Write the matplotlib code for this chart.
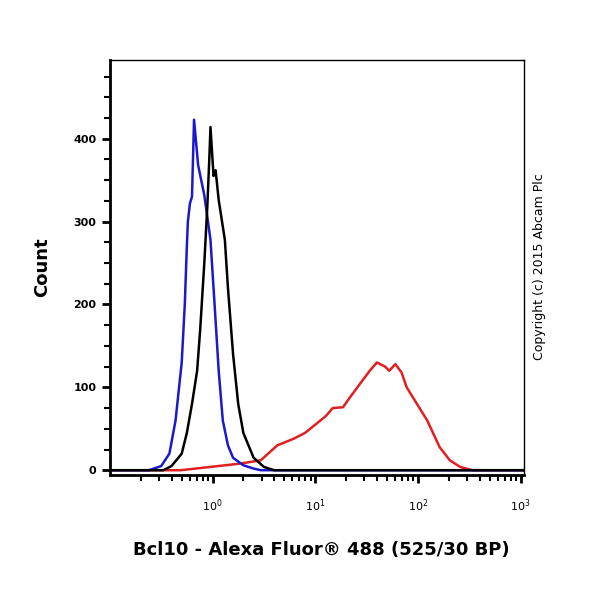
import numpy as np
import matplotlib
matplotlib.use("Agg")
import matplotlib.pyplot as plt
from matplotlib.ticker import LogLocator, MultipleLocator, NullFormatter, FixedLocator

blue_logx = [-1.0, -0.62, -0.5, -0.42, -0.36, -0.3, -0.27, -0.25, -0.24, -0.22, -0.2, -0.18, -0.14, -0.1, -0.08, -0.02, 0.02, 0.06, 0.1, 0.15, 0.2, 0.3, 0.4, 0.47, 3.03]
blue_cnt  = [0, 0, 5, 20, 60, 130, 200, 270, 300, 322, 330, 423, 368, 344, 332, 278, 200, 120, 60, 30, 15, 6, 2, 0, 0]

black_logx = [-1.0, -0.48, -0.4, -0.3, -0.25, -0.2, -0.15, -0.12, -0.08, -0.05, -0.03, -0.02, 0.01, 0.03, 0.06, 0.12, 0.15, 0.2, 0.25, 0.3, 0.4, 0.5, 0.6, 3.03]
black_cnt  = [0, 0, 5, 20, 45, 80, 120, 170, 250, 320, 380, 414, 355, 362, 326, 278, 220, 140, 80, 45, 15, 4, 0, 0]

red_logx = [-1.0, -0.31, -0.02, 0.27, 0.47, 0.63, 0.79, 0.9, 1.02, 1.1, 1.17, 1.27, 1.35, 1.44, 1.53, 1.6, 1.68, 1.72, 1.78, 1.84, 1.89, 1.99, 2.09, 2.21, 2.31, 2.41, 2.53, 3.03]
red_cnt  = [0, 0, 4, 8, 12, 30, 38, 45, 57, 65, 75, 76, 90, 105, 120, 130, 125, 120, 128, 118, 100, 80, 60, 28, 12, 4, 0, 0]

x_major = [1, 10, 100, 1000]

fig = plt.figure(figsize=(6, 6), dpi=100)
ax = fig.add_axes([0.183, 0.208, 0.69, 0.692])
for lx, c, col in [(red_logx, red_cnt, "#e02020"), (blue_logx, blue_cnt, "#1a1acc"), (black_logx, black_cnt, "black")]:
    ax.plot(10 ** np.array(lx), c, color=col, lw=1.8)

ax.set_xscale("log")
ax.set_xlim(10 ** -1.0, 10 ** 3.03)
ax.set_ylim(-6, 495)
ax.xaxis.set_major_locator(FixedLocator(x_major))
ax.xaxis.set_minor_locator(LogLocator(base=10, subs=np.arange(2, 10), numticks=20))
ax.xaxis.set_minor_formatter(NullFormatter())
ax.yaxis.set_minor_locator(MultipleLocator(25))
ax.set_yticks([0, 100, 200, 300, 400])
ax.tick_params(which="major", length=6, width=2, labelsize=8, direction="out")
ax.tick_params(which="minor", length=4, width=1.5, direction="out")
ax.tick_params(axis="x", pad=10)
for s in ["left", "bottom"]:
    ax.spines[s].set_linewidth(2)
for s in ["top", "right"]:
    ax.spines[s].set_linewidth(1)
for lab in ax.get_yticklabels():
    lab.set_fontweight("bold")

fig.text(0.07, 0.555, "Count", rotation=90, fontsize=13, fontweight="bold", ha="center", va="center")
fig.text(0.535, 0.083, "Bcl10 - Alexa Fluor® 488 (525/30 BP)", fontsize=13, fontweight="bold", ha="center", va="center")
fig.text(0.9, 0.555, "Copyright (c) 2015 Abcam Plc", rotation=90, fontsize=9, ha="center", va="center")
fig.savefig("out.png", dpi=100)
